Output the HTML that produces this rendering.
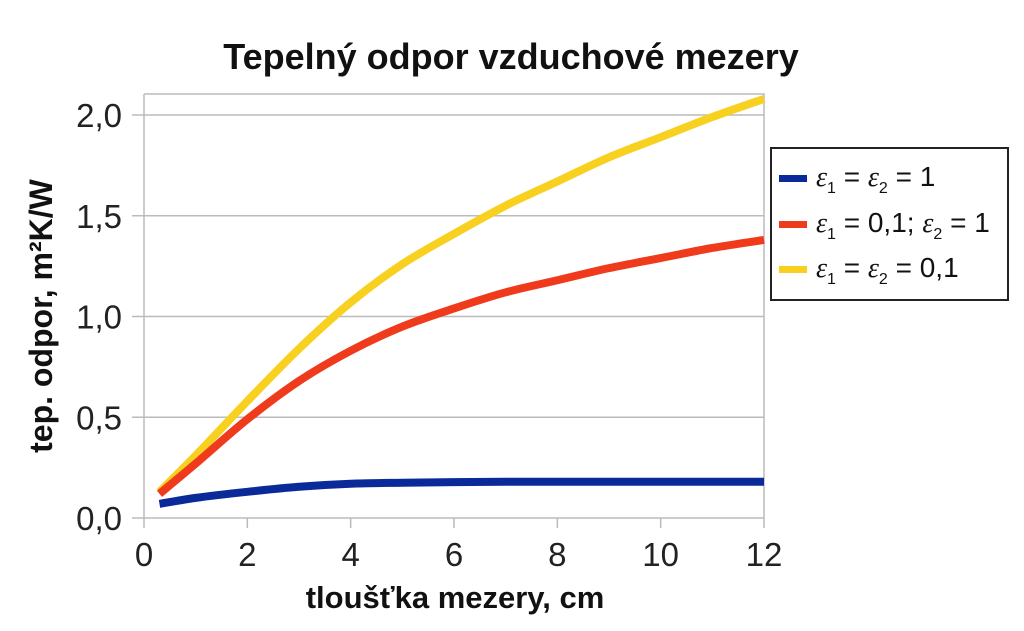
<!DOCTYPE html>
<html><head><meta charset="utf-8"><style>
body{margin:0;background:#fff;}
svg{display:block;font-family:"Liberation Sans",sans-serif;}
</style></head><body>
<svg id="chart" width="1024" height="631" viewBox="0 0 1024 631">
<text x="511" y="69" text-anchor="middle" font-size="36" font-weight="bold" fill="#111">Tepelný odpor vzduchové mezery</text>
<g id="grid"></g>
<g id="ticks"></g>
<g id="lines"></g>
<text transform="translate(52,316) rotate(-90)" text-anchor="middle" font-size="32" font-weight="bold" fill="#111">tep. odpor, m²K/W</text>
<text x="455" y="608" text-anchor="middle" font-size="31" font-weight="bold" fill="#111">tloušťka mezery, cm</text>
<g>
<rect x="771" y="148" width="237" height="152" fill="#fff" stroke="#222" stroke-width="2"/>
<g>
<rect x="779" y="175" width="28" height="7" fill="#0a2a9a"/>
<text x="816" y="186" font-size="28" fill="#111" font-family="Liberation Serif,serif" font-style="italic">ε<tspan font-size="16" dy="7" font-style="normal" font-family="Liberation Sans,sans-serif">1</tspan><tspan dy="-7" font-style="normal" font-family="Liberation Sans,sans-serif"> = </tspan>ε<tspan font-size="16" dy="7" font-style="normal" font-family="Liberation Sans,sans-serif">2</tspan><tspan dy="-7" font-style="normal" font-family="Liberation Sans,sans-serif"> = 1</tspan></text>
</g>
<g>
<rect x="779" y="221" width="28" height="7" fill="#f03a1c"/>
<text x="816" y="232" font-size="28" fill="#111" font-family="Liberation Serif,serif" font-style="italic">ε<tspan font-size="16" dy="7" font-style="normal" font-family="Liberation Sans,sans-serif">1</tspan><tspan dy="-7" font-style="normal" font-family="Liberation Sans,sans-serif"> = 0,1; </tspan>ε<tspan font-size="16" dy="7" font-style="normal" font-family="Liberation Sans,sans-serif">2</tspan><tspan dy="-7" font-style="normal" font-family="Liberation Sans,sans-serif"> = 1</tspan></text>
</g>
<g>
<rect x="779" y="266" width="28" height="7" fill="#f8d020"/>
<text x="816" y="277" font-size="28" fill="#111" font-family="Liberation Serif,serif" font-style="italic">ε<tspan font-size="16" dy="7" font-style="normal" font-family="Liberation Sans,sans-serif">1</tspan><tspan dy="-7" font-style="normal" font-family="Liberation Sans,sans-serif"> = </tspan>ε<tspan font-size="16" dy="7" font-style="normal" font-family="Liberation Sans,sans-serif">2</tspan><tspan dy="-7" font-style="normal" font-family="Liberation Sans,sans-serif"> = 0,1</tspan></text>
</g>
</g>
</svg>
<script>
const xTicks=[0,2,4,6,8,10,12];
const yTicks=[0,0.5,1.0,1.5,2.0];
const yTickLabels=["0,0","0,5","1,0","1,5","2,0"];
const xs=[0.3,1,2,3,4,5,6,7,8,9,10,11,12];
const blueVals=[0.07,0.10,0.13,0.155,0.17,0.175,0.178,0.18,0.18,0.18,0.18,0.18,0.18];
const redVals=[0.12,0.27,0.49,0.68,0.83,0.95,1.04,1.12,1.18,1.24,1.29,1.34,1.38];
const yellowVals=[0.13,0.31,0.58,0.84,1.07,1.26,1.41,1.55,1.67,1.79,1.89,1.99,2.08];
const X0=144,X1=764,Y0=518,Ytop=94;
const sx=v=>X0+(v-0)/(12-0)*(X1-X0);
const sy=v=>Y0-v*201.5;
const NS="http://www.w3.org/2000/svg";
const grid=document.getElementById('grid'),ticks=document.getElementById('ticks'),lines=document.getElementById('lines');
function mk(tag,attrs,parent){const e=document.createElementNS(NS,tag);for(const k in attrs)e.setAttribute(k,attrs[k]);parent.appendChild(e);return e;}
yTicks.forEach((v,i)=>{
 const l=mk('line',{x1:X0-12,x2:X1,y1:sy(v),y2:sy(v),stroke:'#bbb','stroke-width':1.5},grid);
 
 
 const t=mk('text',{x:X0-22,y:sy(v)+12,'text-anchor':'end','font-size':33,fill:'#222'},ticks);
 t.textContent=yTickLabels[i];
 
 
});
const fr=mk('path',{d:`M${X0},${Ytop}H${X1}V${Y0}M${X0},${Ytop}V${Y0}`,stroke:'#bbb','stroke-width':1.5,fill:'none'},grid);


xTicks.forEach(v=>{
 const l=mk('line',{x1:sx(v),x2:sx(v),y1:Y0,y2:Y0+10,stroke:'#bbb','stroke-width':1.5},grid);
 
 
 const t=mk('text',{x:sx(v),y:Y0+48,'text-anchor':'middle','font-size':33,fill:'#222'},ticks);
 t.textContent=String(v);
 
 
});
function smooth(vals){
 const p=xs.map((x,i)=>[sx(x),sy(vals[i])]);
 let d=`M${p[0][0]},${p[0][1]}`;
 for(let i=0;i<p.length-1;i++){
  const a=p[i-1]||p[i],b=p[i],c=p[i+1],e=p[i+2]||c;
  d+=`C${b[0]+(c[0]-a[0])/6},${b[1]+(c[1]-a[1])/6} ${c[0]-(e[0]-b[0])/6},${c[1]-(e[1]-b[1])/6} ${c[0]},${c[1]}`;
 }
 return d;
}
[[blueVals,'#0a2a9a','series-blue'],[yellowVals,'#f8d020','series-yellow'],[redVals,'#f03a1c','series-red']].forEach(s=>{
 const pth=mk('path',{d:smooth(s[0]),stroke:s[1],'stroke-width':8,fill:'none'},lines);
 
 
});
</script>
</body></html>
